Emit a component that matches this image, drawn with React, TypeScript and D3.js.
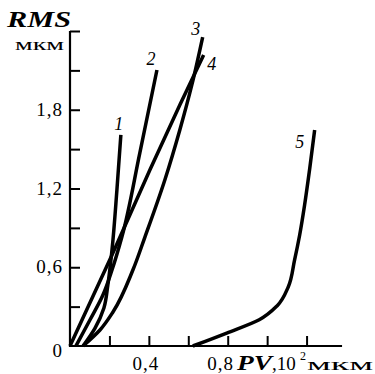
// RMS vs PV curves
import React, { useRef, useEffect } from 'react';
import * as d3 from 'd3';

interface pt {
  x: number;
  y: number;
}

// PV, 10^2 мкм  /  RMS, мкм
const curve1: pt[] = [
  { x: 0.066, y: 0 }, { x: 0.127, y: 0.137 }, { x: 0.172, y: 0.29 }, { x: 0.192, y: 0.465 },
  { x: 0.213, y: 0.731 }, { x: 0.238, y: 1.189 }, { x: 0.258, y: 1.608 },
];
const curve2: pt[] = [
  { x: 0.03, y: 0 }, { x: 0.101, y: 0.198 }, { x: 0.167, y: 0.389 }, { x: 0.213, y: 0.579 },
  { x: 0.263, y: 0.83 }, { x: 0.354, y: 1.47 }, { x: 0.441, y: 2.103 },
];
const curve3: pt[] = [
  { x: 0.066, y: 0 }, { x: 0.152, y: 0.122 }, { x: 0.218, y: 0.259 }, { x: 0.319, y: 0.579 },
  { x: 0.38, y: 0.83 }, { x: 0.481, y: 1.265 }, { x: 0.557, y: 1.646 }, { x: 0.618, y: 1.989 },
  { x: 0.673, y: 2.354 },
];
const curve4: pt[] = [
  { x: 0, y: 0 }, { x: 0.213, y: 0.693 }, { x: 0.405, y: 1.341 }, { x: 0.557, y: 1.836 },
  { x: 0.678, y: 2.217 },
];
const curve5: pt[] = [
  { x: 0.623, y: 0 }, { x: 0.795, y: 0.099 }, { x: 0.96, y: 0.2 }, { x: 1.05, y: 0.305 },
  { x: 1.107, y: 0.45 }, { x: 1.139, y: 0.655 }, { x: 1.165, y: 0.846 }, { x: 1.19, y: 1.074 },
  { x: 1.215, y: 1.341 }, { x: 1.241, y: 1.646 },
];
const curves = [curve1, curve2, curve3, curve4, curve5];
const curveNames = ['1', '2', '3', '4', '5'];

const xTicks = [0.2, 0.4, 0.6, 0.8, 1.0, 1.2];
const xLabels = [0.4, 0.8];
const yTicks = [0.3, 0.6, 0.9, 1.2, 1.5, 1.8, 2.1, 2.4];
const yLabels = [0.6, 1.2, 1.8];

const width = 375;
const height = 374;
const font = '"Liberation Serif", "DejaVu Serif", serif';

const App: React.FC = () => {
  const svgRef = useRef<SVGSVGElement>(null);

  useEffect(() => {
    if (!svgRef.current) return;
    const svg = d3.select(svgRef.current);
    svg.selectAll('*').remove();

    const x = d3.scaleLinear().domain([0, 1.4]).range([70, 346]);
    const y = d3.scaleLinear().domain([0, 2.4]).range([346, 31]);
    const comma = (v: number) => d3.format('.1f')(v).replace('.', ',');

    // axes, ticks pointing inward
    const gx = svg.append('g')
      .attr('transform', `translate(0,${y(0)})`)
      .call(d3.axisTop(x).tickValues(xTicks).tickSize(10).tickSizeOuter(0).tickFormat(() => ''));
    gx.select('.domain').attr('stroke-width', 2.2).attr('d', `M${x(0)},0H${x(1.38)}`);
    gx.selectAll('.tick line').attr('stroke-width', 2);

    const gy = svg.append('g')
      .attr('transform', `translate(${x(0)},0)`)
      .call(d3.axisRight(y).tickValues(yTicks).tickSize(10).tickSizeOuter(0).tickFormat(() => ''));
    gy.select('.domain').attr('stroke-width', 2.2).attr('d', `M0,${y(0) + 1}V${y(2.4)}`);
    gy.selectAll('.tick line').attr('stroke-width', 2);

    // tick labels
    svg.selectAll('.xl').data(xLabels).join('text')
      .attr('x', (d, i) => x(d) - (i === 0 ? 3 : 7)).attr('y', 370)
      .attr('text-anchor', 'middle').attr('font-family', font).attr('font-size', 19)
      .attr('letter-spacing', 1)
      .text((d) => comma(d));
    svg.selectAll('.yl').data(yLabels).join('text')
      .attr('x', 63).attr('y', (d) => y(d) + 6)
      .attr('text-anchor', 'end').attr('font-family', font).attr('font-size', 19)
      .attr('letter-spacing', 1)
      .text((d) => comma(d));
    svg.append('text').attr('x', 62).attr('y', 357).attr('text-anchor', 'end')
      .attr('font-family', font).attr('font-size', 19).text('0');

    // axis titles
    svg.append('text').attr('x', 7).attr('y', 27).attr('font-family', font)
      .attr('font-size', 24).attr('font-style', 'italic').attr('font-weight', 'bold')
      .attr('textLength', 64).attr('lengthAdjust', 'spacingAndGlyphs').text('RMS');
    svg.append('text').attr('x', 15).attr('y', 50).attr('font-family', font)
      .attr('font-size', 16)
      .attr('textLength', 49).attr('lengthAdjust', 'spacingAndGlyphs').text('мкм');
    svg.append('text').attr('x', 237).attr('y', 370).attr('font-family', font)
      .attr('font-size', 22).attr('font-style', 'italic').attr('font-weight', 'bold')
      .attr('textLength', 35).attr('lengthAdjust', 'spacingAndGlyphs').text('PV');
    svg.append('text').attr('x', 272).attr('y', 370).attr('font-family', font)
      .attr('font-size', 19).text(',10');
    svg.append('text').attr('x', 300).attr('y', 360).attr('font-family', font)
      .attr('font-size', 12).text('2');
    svg.append('text').attr('x', 307).attr('y', 370).attr('font-family', font)
      .attr('font-size', 16)
      .attr('textLength', 66).attr('lengthAdjust', 'spacingAndGlyphs').text('мкм');

    // curves
    const line = d3.line<pt>().x((d) => x(d.x)).y((d) => y(d.y)).curve(d3.curveMonotoneY);
    svg.selectAll('.curve').data(curves).join('path')
      .attr('d', (d) => line(d))
      .attr('fill', 'none').attr('stroke', '#000').attr('stroke-width', 3.5)
      .attr('stroke-linecap', 'butt');

    // curve numbers
    const labelOffsets = [[-2, -5], [-6, -5], [-7, -2], [8, 15], [-15, 18]];
    svg.selectAll('.cn').data(curves).join('text')
      .attr('x', (d, i) => x(d[d.length - 1].x) + labelOffsets[i][0])
      .attr('y', (d, i) => y(d[d.length - 1].y) + labelOffsets[i][1])
      .attr('text-anchor', 'middle').attr('font-family', font).attr('font-size', 18)
      .attr('font-style', 'italic').text((d, i) => curveNames[i]);
  }, []);

  return (
    <svg ref={svgRef} width={width} height={height}
      style={{ position: 'absolute', left: 0, top: 0, background: '#fff' }} />
  );
};

export default App;
